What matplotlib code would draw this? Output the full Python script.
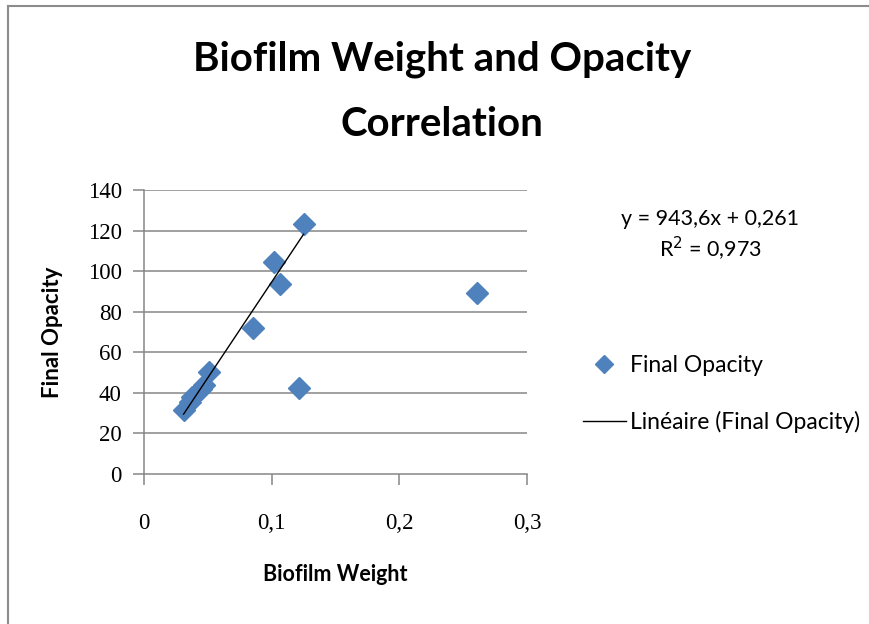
import matplotlib.pyplot as plt
from matplotlib.lines import Line2D

# data
weight = [0.031, 0.036, 0.0375, 0.045, 0.0467, 0.051, 0.0856, 0.1018, 0.1066, 0.1215, 0.125, 0.2606]
opacity = [31.5, 35.5, 38.0, 42.0, 44.0, 50.5, 71.8, 104.6, 93.6, 42.2, 123.2, 89.0]

# trendline as labelled on the chart
slope, intercept = 943.6, 0.261
trend_x = [0.031, 0.125]
trend_y = [slope * x + intercept for x in trend_x]

x_ticks = [0, 0.1, 0.2, 0.3]
x_labels = ["0", "0,1", "0,2", "0,3"]
y_ticks = [0, 20, 40, 60, 80, 100, 120, 140]

BLUE = "#4F81BD"
GRID = "#868686"
SANS = ["Lato", "DejaVu Sans"]
SERIF = ["Liberation Serif", "DejaVu Serif"]

fig = plt.figure(figsize=(8.69, 6.24), dpi=100)

# chart frame: only the top and left edges are visible in the reference
fx, fy = 8 / 869, 1 - 6 / 624
fig.add_artist(Line2D([fx, 1.0], [fy, fy], transform=fig.transFigure,
                      color="#8c8c8c", linewidth=1.5))
fig.add_artist(Line2D([fx, fx], [0.0, fy], transform=fig.transFigure,
                      color="#8c8c8c", linewidth=1.5))

ax = fig.add_axes([144 / 869, 1 - 474 / 624, 383 / 869, 284 / 624])
ax.set_xlim(0, 0.3)
ax.set_ylim(0, 140)

for y in y_ticks[1:]:
    ax.axhline(y, color=GRID, linewidth=1.1, zorder=1)

ax.plot(weight, opacity, linestyle="none", marker="D", markersize=11,
        color=BLUE, markeredgecolor=BLUE, zorder=3)
ax.plot(trend_x, trend_y, color="black", linewidth=1.0, zorder=4)

for side in ["top", "right"]:
    ax.spines[side].set_visible(False)
ax.spines["left"].set_color(GRID)
ax.spines["bottom"].set_color(GRID)
ax.spines["left"].set_linewidth(1.1)
ax.spines["bottom"].set_linewidth(1.1)

ax.set_xticks(x_ticks)
ax.set_xticklabels(x_labels, fontfamily=SERIF, fontsize=16.5)
ax.set_yticks(y_ticks)
ax.set_yticklabels([str(v) for v in y_ticks], fontfamily=SERIF, fontsize=16.5)
ax.tick_params(axis="both", color=GRID, length=8, width=1.1)
ax.tick_params(axis="x", pad=20)
ax.tick_params(axis="y", pad=8)

ax.set_xlabel("Biofilm Weight", fontfamily=SANS, fontsize=15.5,
              fontweight="bold", labelpad=22)
ax.set_ylabel("Final Opacity", fontfamily=SANS, fontsize=16,
              fontweight="bold", labelpad=18)

fig.text(442 / 869, 1 - 92 / 624, "Biofilm Weight and Opacity\nCorrelation",
         ha="center", va="center", fontfamily=SANS, fontsize=29,
         fontweight="bold", linespacing=1.95)

fig.text(710 / 869, 1 - 236 / 624, "y = 943,6x + 0,261\nR$^2$ = 0,973",
         ha="center", va="center", fontfamily=SANS, fontsize=15.5,
         linespacing=1.25)

handles = [
    Line2D([], [], linestyle="none", marker="D", markersize=9, color=BLUE),
    Line2D([], [], color="black", linewidth=1.0),
]
fig.legend(handles, ["Final Opacity", "Linéaire (Final Opacity)"],
           loc="center left", bbox_to_anchor=(562 / 869, 1 - 394 / 624),
           frameon=False, prop={"family": SANS, "size": 16.5},
           handlelength=1.9, handletextpad=0.15, labelspacing=1.5)

fig.savefig("out.png", dpi=100)
